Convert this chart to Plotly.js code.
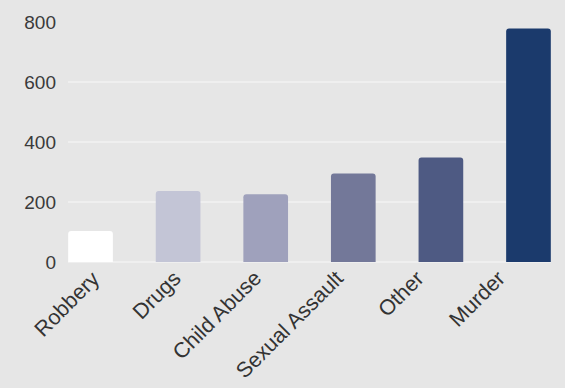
<!DOCTYPE html>
<html>
<head>
<meta charset="utf-8">
<script src="https://cdn.plot.ly/plotly-3.0.1.min.js"></script>
<style>html,body{margin:0;padding:0;background:#e6e6e6;}#chart{width:565px;height:388px;}</style>
</head>
<body>
<div id="chart"></div>
<script>
const categories = ["Robbery", "Drugs", "Child Abuse", "Sexual Assault", "Other", "Murder"];
const values = [103, 237, 226, 295, 348, 778];
const barColors = ["#ffffff", "#c3c5d6", "#9fa1bc", "#737899", "#4e5a83", "#1b3a6c"];
const yTicks = [0, 200, 400, 600, 800];

const trace = {
  type: "bar",
  x: categories,
  y: values,
  marker: { color: barColors, cornerradius: 3, line: { width: 0 } },
  width: 0.51,
  hoverinfo: "none"
};

// category labels placed along the bottom (label spacing in the reference is tighter than bar spacing)
const plotLeft = 68, plotWidth = 483, labelStart = 106, labelStep = 81.0;
const labelAnnotations = categories.map((c, i) => ({
  text: c,
  xref: "paper",
  yref: "paper",
  x: (labelStart + labelStep * i - plotLeft) / plotWidth,
  y: -0.012,
  xanchor: "right",
  yanchor: "top",
  textangle: -45,
  showarrow: false,
  borderpad: 0,
  font: { size: 21.5, color: "#333333" }
}));

const layout = {
  width: 565,
  height: 388,
  margin: { l: 68, r: 14, t: 22, b: 126 },
  paper_bgcolor: "#e6e6e6",
  plot_bgcolor: "#e6e6e6",
  showlegend: false,
  font: { family: "Liberation Sans, Arial, sans-serif", color: "#333333" },
  xaxis: {
    type: "category",
    range: [-0.257, 5.257],
    showticklabels: false,
    showgrid: false,
    showline: false,
    ticks: ""
  },
  yaxis: {
    range: [0, 800],
    tickvals: yTicks,
    ticktext: yTicks.map(String),
    tickfont: { size: 19, color: "#3a3a3a" },
    showgrid: true,
    gridcolor: "#efefef",
    gridwidth: 2,
    zeroline: true,
    zerolinecolor: "#efefef",
    zerolinewidth: 2,
    ticklabelstandoff: 11,
    showline: false
  },
  annotations: labelAnnotations
};

Plotly.newPlot("chart", [trace], layout, { displayModeBar: false, staticPlot: true });
</script>
</body>
</html>
